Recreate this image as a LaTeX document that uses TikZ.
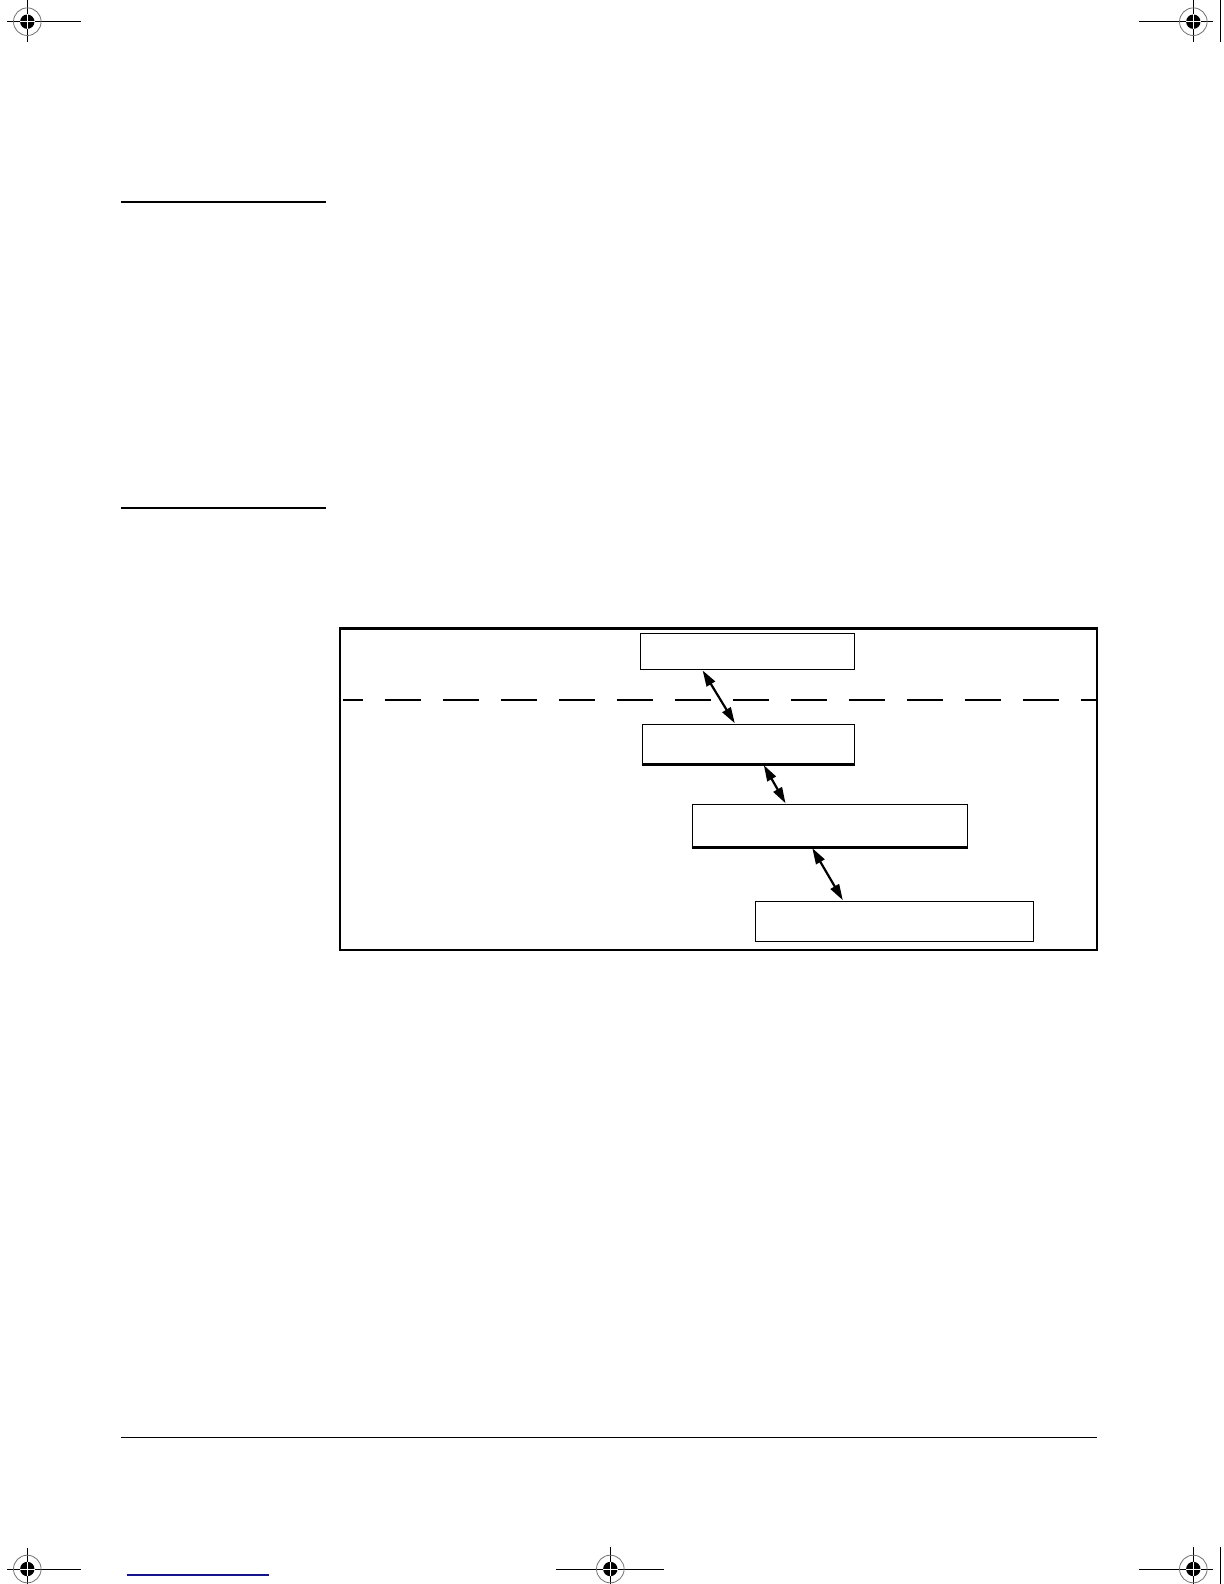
\documentclass[tikz,border=0pt]{standalone}
\usetikzlibrary{arrows.meta}
\definecolor{linkblue}{RGB}{20,20,140}
\begin{document}
\begin{tikzpicture}[x=0.5pt,y=-0.5pt,
  boxnode/.style={draw,line width=0.6pt,inner sep=0pt,rectangle},
  dbl/.style={line width=1.1pt,{Triangle[length=8pt,width=4.8pt]}-{Triangle[length=8pt,width=4.8pt]},shorten <=0.3pt,shorten >=0.3pt},
  rulethick/.style={line width=1pt},
  rulethin/.style={line width=0.5pt},
  crossline/.style={line width=0.5pt},
  ringstyle/.style={draw=black!55,line width=0.4pt},
  regmark/.pic={
    \draw[ringstyle] (0,0) circle[radius=6.9pt];
    \fill (0,0) circle[radius=3.6pt];
    \draw[white,line width=0.45pt] (-3.6pt,0)--(3.6pt,0) (0,-3.6pt)--(0,3.6pt);
  }]
\useasboundingbox (0,0) rectangle (1224,1584);
\fill[white] (0,0) rectangle (1224,1584);

% side rules
\draw[rulethick] (121,202) -- (326,202);
\draw[rulethick] (121,508) -- (326,508);
\draw[rulethin] (121,1437) -- (1097,1437);
\draw[line width=0.6pt,linkblue] (126.7,1575) -- (268.7,1575);

% frame
\draw[line width=1.2pt] (339.7,628.3) rectangle (1096.7,949.7);
% dashed divider
\draw[line width=1.05pt,dash pattern=on 18pt off 11pt,dash phase=8pt] (342.5,700) -- (1096,700);

% boxes
\node[boxnode,minimum width=107pt,minimum height=18pt] (b1) at (747.3,651.3) {};
\node[boxnode,minimum width=106pt,minimum height=19.8pt] (b2) at (748.3,744.2) {};
\node[boxnode,minimum width=137.5pt,minimum height=21.3pt] (b3) at (829.8,825.7) {};
\node[boxnode,minimum width=139pt,minimum height=20pt] (b4) at (894.3,921.3) {};
\draw[line width=1.1pt] (b2.south west) -- (b2.south east);
\draw[line width=1.1pt] (b3.south west) -- (b3.south east);

% connectors
\draw[dbl] ([xshift=-22.5pt]b1.south) -- ([xshift=-6.6pt]b2.north);
\draw[dbl] ([xshift=7.6pt]b2.south) -- ([xshift=-22pt]b3.north);
\draw[dbl] ([xshift=-8.9pt]b3.south) -- ([xshift=-25.6pt]b4.north);

% registration marks
\draw[crossline] (7,21.7) -- (80.7,21.7) (27.3,0) -- (27.3,41.7);
\pic at (27.3,21.7) {regmark};
\draw[crossline] (1139.3,21.7) -- (1212.7,21.7) (1193.3,0) -- (1193.3,41.7);
\pic at (1193.3,21.7) {regmark};
\draw[crossline] (1220.5,0) -- (1220.5,41.7);
\draw[crossline] (7,1569) -- (80.7,1569) (27.3,1547.5) -- (27.3,1584);
\pic at (27.3,1569) {regmark};
\draw[crossline] (556,1569) -- (664,1569) (610.3,1547) -- (610.3,1584);
\pic at (610.3,1569) {regmark};
\draw[crossline] (1139.3,1569) -- (1212.7,1569) (1193.3,1547) -- (1193.3,1584);
\pic at (1193.3,1569) {regmark};
\draw[crossline] (1220.5,1547) -- (1220.5,1584);
\end{tikzpicture}
\end{document}
